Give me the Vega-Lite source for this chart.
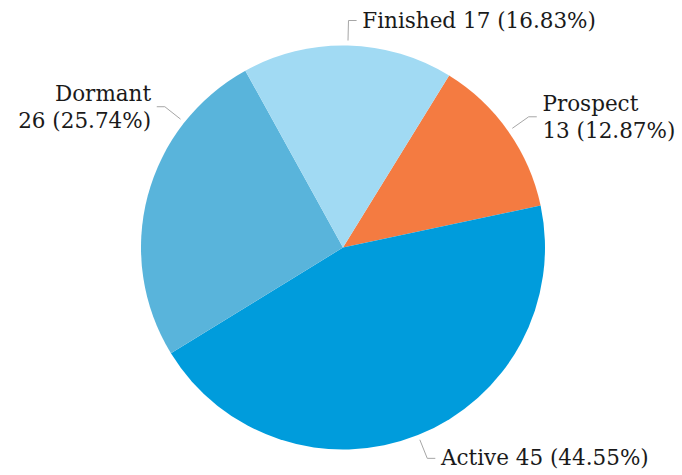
{
  "$schema": "https://vega.github.io/schema/vega-lite/v6.json",
  "width": 678,
  "height": 455,
  "autosize": {"type": "none"},
  "padding": {"left": 4, "top": 20, "right": 0, "bottom": 0},
  "background": "white",
  "config": {"view": {"stroke": null}},
  "data": {
    "values": [
      {"status": "Prospect", "count": 13, "order": 1},
      {"status": "Active", "count": 45, "order": 2},
      {"status": "Dormant", "count": 26, "order": 3},
      {"status": "Finished", "count": 17, "order": 4}
    ]
  },
  "transform": [
    {"joinaggregate": [{"op": "sum", "field": "count", "as": "total"}]},
    {"window": [{"op": "sum", "field": "count", "as": "cum"}], "sort": [{"field": "order"}], "frame": [null, 0]},
    {"calculate": "0.553 + 2 * PI * (datum.cum - datum.count / 2) / datum.total", "as": "mid"},
    {"calculate": "sin(datum.mid) < 0 && abs(cos(datum.mid)) < 0.62 ? (cos(datum.mid) >= 0 ? 2 * PI - acos(0.62) : PI + acos(0.62)) : datum.mid", "as": "la"},
    {"calculate": "sin(datum.la) >= 0 ? 1 : -1", "as": "side"},
    {"calculate": "abs(cos(datum.la)) < 0.8", "as": "wrap"},
    {"calculate": "1.025 * sin(datum.la)", "as": "x0"},
    {"calculate": "1.025 * cos(datum.la)", "as": "y0"},
    {"calculate": "1.124 * sin(datum.la)", "as": "x1"},
    {"calculate": "1.124 * cos(datum.la)", "as": "y1"},
    {"calculate": "datum.x1 + datum.side * 0.04", "as": "x2"},
    {"calculate": "datum.x2 + datum.side * 0.028", "as": "tx"},
    {"calculate": "datum.y1 + (datum.wrap ? 0.06 : -0.005)", "as": "ty"},
    {"calculate": "datum.status + (datum.wrap ? '\\n' : ' ') + datum.count + ' (' + format(datum.count / datum.total, '.2%') + ')'", "as": "label"}
  ],
  "layer": [
    {
      "mark": {"type": "arc", "outerRadius": 202},
      "encoding": {
        "theta": {"field": "count", "type": "quantitative", "stack": true, "scale": {"range": [0.553, 6.8362]}},
        "color": {
          "field": "status",
          "type": "nominal",
          "scale": {"domain": ["Prospect", "Active", "Dormant", "Finished"], "range": ["#F47B41", "#009CDC", "#59B4DB", "#A1DAF3"]},
          "legend": null
        },
        "order": {"field": "order", "type": "quantitative"}
      }
    },
    {
      "mark": {"type": "rule", "color": "#a6a6a6", "strokeWidth": 1},
      "encoding": {
        "x": {"field": "x0", "type": "quantitative", "scale": {"domain": [-1.678, 1.678], "nice": false, "zero": false}, "axis": null},
        "y": {"field": "y0", "type": "quantitative", "scale": {"domain": [-1.1262, 1.1262], "nice": false, "zero": false}, "axis": null},
        "x2": {"field": "x1"},
        "y2": {"field": "y1"}
      }
    },
    {
      "mark": {"type": "rule", "color": "#a6a6a6", "strokeWidth": 1},
      "encoding": {
        "x": {"field": "x1", "type": "quantitative", "axis": null},
        "y": {"field": "y1", "type": "quantitative", "axis": null},
        "x2": {"field": "x2"},
        "y2": {"field": "y1"}
      }
    },
    {
      "transform": [{"filter": "datum.side > 0"}],
      "mark": {"type": "text", "align": "left", "baseline": "middle", "font": "DejaVu Serif", "fontSize": 21.5, "lineBreak": "\n", "lineHeight": 27.5, "color": "#1a1a1a"},
      "encoding": {
        "x": {"field": "tx", "type": "quantitative", "axis": null},
        "y": {"field": "ty", "type": "quantitative", "axis": null},
        "text": {"field": "label"}
      }
    },
    {
      "transform": [{"filter": "datum.side < 0"}],
      "mark": {"type": "text", "align": "right", "baseline": "middle", "font": "DejaVu Serif", "fontSize": 21.5, "lineBreak": "\n", "lineHeight": 27.5, "color": "#1a1a1a"},
      "encoding": {
        "x": {"field": "tx", "type": "quantitative", "axis": null},
        "y": {"field": "ty", "type": "quantitative", "axis": null},
        "text": {"field": "label"}
      }
    }
  ]
}
